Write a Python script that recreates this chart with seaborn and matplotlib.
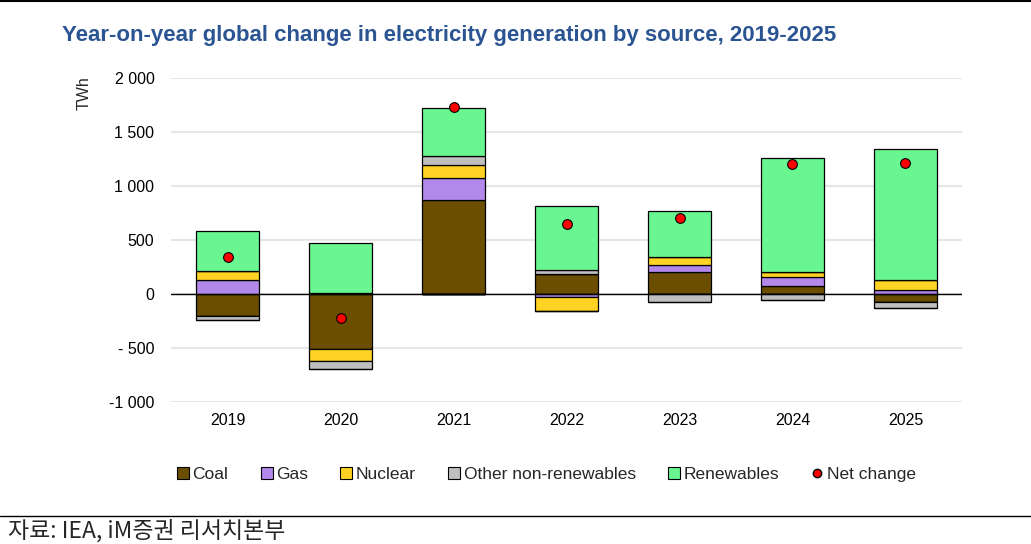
import numpy as np
import pandas as pd
import seaborn as sns
import matplotlib.pyplot as plt
from matplotlib.lines import Line2D
from matplotlib.patches import Patch

"""
Data (TWh, read off the IEA chart)
"""
years = ["2019", "2020", "2021", "2022", "2023", "2024", "2025"]
coal = [-207, -509, 867, 185, 201, 77, -74]
gas = [133, 10, 207, -31, 65, 77, 40]
nuclear = [83, -114, 123, -130, 74, 49, 93]
other = [-31, -71, 83, 40, -74, -59, -56]
renewables = [364, 460, 441, 593, 426, 1056, 1204]
net_change = [343, -225, 1728, 651, 701, 1204, 1213]

sources = ["Coal", "Gas", "Nuclear", "Other non-renewables", "Renewables"]
colors = ["#6B4E00", "#B388EB", "#FFD324", "#BFBFBF", "#69F590"]

df = pd.DataFrame({"year": years, "Coal": coal, "Gas": gas, "Nuclear": nuclear,
                   "Other non-renewables": other, "Renewables": renewables,
                   "Net change": net_change})

"""
Plot
"""
sns.set_style("white")
plt.rcParams["font.family"] = ["Liberation Sans", "DejaVu Sans"]

fig = plt.figure(figsize=(10.31, 5.44), dpi=100)
ax = fig.add_axes([0.166, 0.261, 0.767, 0.596])

pos_base = np.zeros(len(years))
neg_base = np.zeros(len(years))
for src, col in zip(sources, colors):
    vals = df[src].to_numpy(dtype=float)
    pos = np.where(vals > 0, vals, 0)
    neg = np.where(vals < 0, vals, 0)
    sns.barplot(x=df["year"], y=pos, bottom=pos_base, order=years, color=col,
                width=0.56, edgecolor="black", linewidth=0.9, saturation=1, ax=ax)
    sns.barplot(x=df["year"], y=neg, bottom=neg_base, order=years, color=col,
                width=0.56, edgecolor="black", linewidth=0.9, saturation=1, ax=ax)
    pos_base += pos
    neg_base += neg

sns.stripplot(x=df["year"], y=df["Net change"], order=years, jitter=False,
              color="#FF0000", edgecolor="black", linewidth=0.8, size=7,
              zorder=5, ax=ax)

ax.set_xlim(-0.5, 6.5)
ax.set_ylim(-1000, 2000)
ticks = [-1000, -500, 0, 500, 1000, 1500, 2000]
ax.set_yticks(ticks)
ax.set_yticklabels(["-1 000", "- 500", "0", "500", "1 000", "1 500", "2 000"])
ax.yaxis.grid(True, color="#E6E6E6", linewidth=1.5)
ax.set_axisbelow(True)
ax.axhline(0, color="black", linewidth=1, zorder=4)
for s in ax.spines.values():
    s.set_visible(False)
ax.tick_params(axis="both", length=0, labelsize=11.5, colors="black")
ax.tick_params(axis="y", pad=12)
ax.tick_params(axis="x", pad=8)
ax.set_xlabel("")
ax.set_ylabel("")
fig.text(0.082, 0.86, "TWh", rotation=90, fontsize=11.5, ha="center", va="top")

fig.text(0.06, 0.935, "Year-on-year global change in electricity generation by source, 2019-2025",
         fontsize=16, fontweight="bold", color="#2B5592", ha="left", va="center")

handles = [Patch(facecolor=c, edgecolor="black", linewidth=0.8, label=s)
           for s, c in zip(sources, colors)]
handles.append(Line2D([], [], marker="o", linestyle="none", markerfacecolor="#FF0000",
                      markeredgecolor="black", markersize=6, label="Net change"))
fig.legend(handles=handles, loc="center", bbox_to_anchor=(0.53, 0.127), ncol=6,
           frameon=False, handlelength=0.7, handleheight=0.7,
           handletextpad=0.2, columnspacing=1.85,
           prop={"family": ["Liberation Sans Narrow", "Liberation Sans"], "size": 12.5})

# top border and footer
fig.add_artist(Line2D([0, 1], [0.998, 0.998], color="black", linewidth=1.5))
fig.add_artist(Line2D([0, 1], [0.051, 0.051], color="black", linewidth=1))
fig.text(0.008, 0.024, "자료: IEA, iM증권 리서치본부", fontsize=16.5, ha="left", va="center",
         family=["Noto Sans CJK KR", "DejaVu Sans"], fontweight="light")

fig.savefig("out.png", dpi=100)
